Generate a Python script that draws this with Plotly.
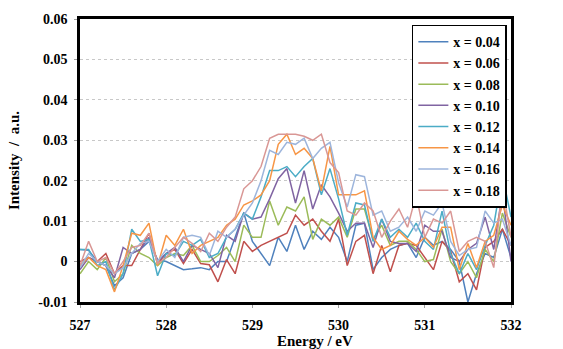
import plotly.graph_objects as go

energy = [round(527 + 0.1 * i, 1) for i in range(51)]

labels = ["x = 0.04", "x = 0.06", "x = 0.08", "x = 0.10",
          "x = 0.12", "x = 0.14", "x = 0.16", "x = 0.18"]

x004 = [0.003, 0.0028, 0.0, -0.001, -0.006, -0.004, 0.002, 0.003, 0.005, 0.0005,
        0.0, -0.001, -0.002, -0.0018, -0.0015, -0.002, 0.0, 0.0, 0.006, 0.012,
        0.005, 0.002, -0.001, 0.006, 0.0025, 0.009, 0.003, 0.0075, 0.0055, 0.0085,
        0.006, 0.0, 0.009, 0.0095, -0.002, 0.001, 0.003, 0.004, 0.0045, 0.001,
        0.006, 0.004, 0.005, 0.003, 0.0, -0.010, -0.003, 0.002, 0.001, 0.008, 0.001]
x006 = [0.0, 0.001, 0.0, 0.002, -0.003, -0.001, -0.001, 0.003, 0.007, -0.0005,
        0.002, 0.003, -0.0005, 0.003, -0.0005, -0.0008, -0.005, 0.0005, -0.003, 0.005,
        0.0025, 0.004, 0.005, 0.006, 0.007, 0.0115, 0.009, 0.0105, 0.0075, 0.005,
        0.0105, -0.001, 0.005, 0.0065, -0.003, 0.004, -0.0025, 0.004, 0.0045, 0.004,
        0.001, -0.002, 0.005, 0.0025, -0.005, -0.003, -0.007, 0.0035, 0.005, 0.008, 0.004]
x008 = [-0.003, 0.0, -0.002, 0.001, -0.005, -0.003, 0.004, 0.002, 0.001, -0.001,
        0.001, 0.002, 0.0015, 0.004, 0.0, 0.0, 0.0015, 0.0035, 0.0, 0.009,
        0.006, 0.006, 0.015, 0.009, 0.0135, 0.0125, 0.016, 0.0055, 0.0105, 0.009,
        0.011, 0.006, 0.013, 0.013, 0.0055, 0.009, 0.004, 0.005, 0.005, 0.003,
        0.0, 0.0005, 0.008, 0.0, -0.003, 0.0, -0.004, 0.003, 0.0, 0.012, 0.006]
x010 = [-0.002, 0.001, 0.0, -0.001, -0.004, 0.0035, 0.002, 0.003, 0.006, 0.0,
        0.002, 0.0035, 0.0, 0.004, 0.003, 0.002, -0.0015, 0.0065, 0.005, 0.012,
        0.0105, 0.011, 0.0155, 0.0205, 0.023, 0.0145, 0.0225, 0.013, 0.019, 0.016,
        0.012, 0.0075, 0.0095, 0.0095, 0.0035, 0.0105, 0.005, 0.0045, 0.0045, 0.0025,
        0.009, 0.0075, 0.0075, 0.001, 0.0, 0.003, 0.0045, 0.011, 0.003, 0.017, 0.0]
x012 = [0.003, 0.003, -0.001, 0.0, -0.007, -0.003, 0.008, 0.005, 0.0055, -0.0035,
        0.002, 0.0015, 0.005, 0.004, 0.0055, 0.001, 0.002, 0.006, 0.008, 0.012,
        0.0105, 0.016, 0.0225, 0.0225, 0.0235, 0.021, 0.0235, 0.0255, 0.0165, 0.023,
        0.0155, 0.0065, 0.0145, 0.014, 0.005, 0.0105, 0.006, 0.008, 0.006, 0.0095,
        0.005, 0.003, 0.0125, 0.002, -0.003, 0.002, -0.002, 0.004, 0.009, 0.0215, 0.011]
x014 = [-0.001, 0.001, -0.001, -0.002, -0.0075, -0.001, 0.007, 0.0065, 0.0095, -0.001,
        0.0065, 0.004, 0.008, 0.002, 0.004, 0.005, 0.006, 0.009, 0.0105, 0.014,
        0.015, 0.0165, 0.02, 0.029, 0.0315, 0.0265, 0.028, 0.0255, 0.0175, 0.0285,
        0.0165, 0.0165, 0.0165, 0.0175, 0.006, 0.003, 0.004, 0.0075, 0.0055, 0.004,
        0.006, 0.0035, 0.0085, 0.0085, -0.002, 0.0045, -0.0015, 0.005, 0.0065, 0.014, 0.009]
x016 = [-0.0015, 0.002, 0.0, -0.001, -0.003, -0.0015, 0.002, 0.0045, 0.005, 0.0,
        0.003, 0.001, 0.006, 0.0065, 0.006, 0.0015, 0.0075, 0.006, 0.008, 0.0115,
        0.0145, 0.02, 0.0275, 0.0265, 0.0295, 0.029, 0.0305, 0.0255, 0.028, 0.0295,
        0.0195, 0.0135, 0.0215, 0.021, 0.0115, 0.0125, 0.0075, 0.0085, 0.011, 0.0075,
        0.0125, 0.0115, 0.0145, 0.005, 0.0015, 0.003, 0.0035, 0.0125, 0.0095, 0.0105, 0.004]
x018 = [-0.001, 0.005, 0.0, 0.001, -0.003, 0.0, 0.0035, 0.004, 0.007, -0.0005,
        0.001, 0.0035, 0.006, 0.0045, 0.0025, 0.007, 0.005, 0.0085, 0.011, 0.018,
        0.02, 0.0235, 0.0305, 0.0315, 0.0315, 0.0315, 0.031, 0.030, 0.0315, 0.0245,
        0.022, 0.0125, 0.0115, 0.0145, 0.0125, 0.006, 0.01, 0.013, 0.0085, 0.0165,
        0.006, 0.0105, 0.0095, 0.0125, 0.0025, 0.005, 0.006, 0.005, -0.0015, 0.0185, 0.006]

series = [x004, x006, x008, x010, x012, x014, x016, x018]
colors = ["#4F81BD", "#C0504D", "#9BBB59", "#8064A2",
          "#4BACC6", "#F79646", "#9DB5DC", "#D99795"]

y_ticks = [-0.01, 0.0, 0.01, 0.02, 0.03, 0.04, 0.05, 0.06]
y_tick_text = ["-0.01", "0", "0.01", "0.02", "0.03", "0.04", "0.05", "0.06"]
x_ticks = [527, 528, 529, 530, 531, 532]

font_family = "Liberation Serif, Times New Roman, serif"

fig = go.Figure()
for name, vals, col in zip(labels, series, colors):
    fig.add_trace(go.Scatter(x=energy, y=vals, mode="lines", name="<b>%s</b>" % name,
                             line=dict(color=col, width=1.5)))

fig.update_layout(
    width=563, height=349,
    margin=dict(l=76, r=52, t=19, b=47),
    paper_bgcolor="white", plot_bgcolor="white",
    font=dict(family=font_family, size=14, color="black"),
    showlegend=True,
    legend=dict(x=0.77, y=0.98, xanchor="left", yanchor="top",
                bgcolor="white", bordercolor="black", borderwidth=1.5,
                font=dict(family=font_family, size=14, color="black"),
                tracegroupgap=0, itemwidth=30),
    annotations=[
        dict(text="<b>Energy / eV</b>", xref="paper", yref="paper",
             x=0.545, y=-0.138, xanchor="center", yanchor="middle",
             showarrow=False, font=dict(family=font_family, size=15, color="black")),
    ],
)
fig.update_xaxes(range=[527, 532], tickvals=x_ticks,
                 ticktext=["<b>%d</b>" % v for v in x_ticks], showgrid=False,
                 showline=True, linecolor="black", linewidth=2.5, mirror=True,
                 ticks="outside", ticklen=3, tickcolor="#A0A0A0", tickwidth=1,
                 ticklabelstandoff=5,
                 tickfont=dict(family=font_family, size=14, color="black"),
                 zeroline=False)
fig.update_yaxes(range=[-0.01, 0.06], tickvals=y_ticks,
                 ticktext=["<b>%s</b>" % t for t in y_tick_text],
                 showgrid=True, gridcolor="#C8C8C8", griddash="dot", gridwidth=1,
                 showline=True, linecolor="black", linewidth=2.5, mirror=True,
                 ticks="outside", ticklen=3, tickcolor="#A0A0A0", tickwidth=1,
                 ticklabelstandoff=4, zeroline=False,
                 tickfont=dict(family=font_family, size=14, color="black"),
                 title=dict(text="<b>Intensity&nbsp;&nbsp;/&nbsp;&nbsp;a.u.</b>", standoff=16,
                            font=dict(family=font_family, size=15)))

fig.write_html("out.html")
